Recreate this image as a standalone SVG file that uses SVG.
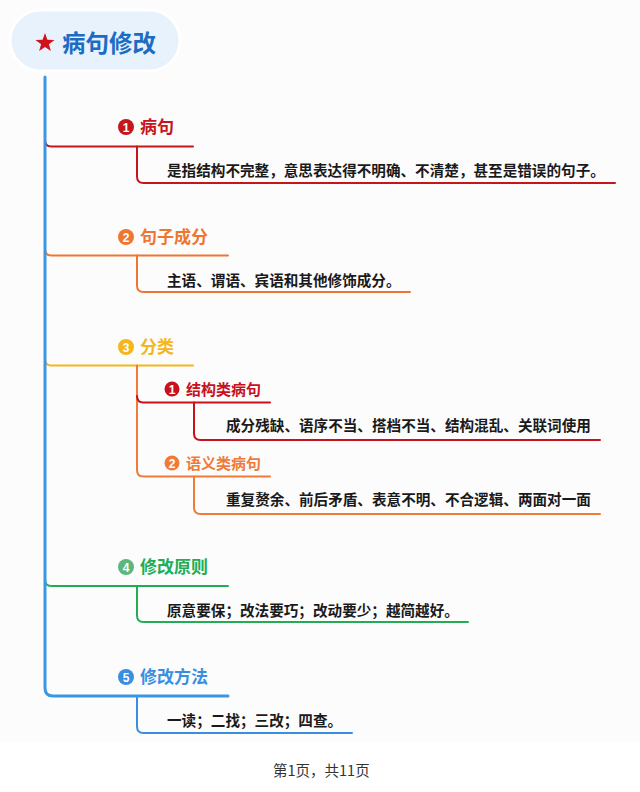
<svg xmlns="http://www.w3.org/2000/svg" width="640" height="792" viewBox="0 0 640 792">
<style>
.cjk{font-family:"Noto Sans CJK SC","Noto Sans",sans-serif;}
.title{font-size:23.5px;font-weight:700;fill:#1c6cc4;}
.lbl{font-size:17px;font-weight:700;}
.sub{font-size:15px;font-weight:700;}
.txt{font-size:14.6px;font-weight:700;fill:#1a1a1a;}
.num{font-family:"Liberation Sans",sans-serif;font-size:12px;font-weight:700;fill:#fff;text-anchor:middle;}
.ln{fill:none;stroke-width:2;stroke-linecap:round;}
.footer{font-size:14.5px;fill:#333;}
</style>
<rect x="0" y="0" width="640" height="742" fill="#fcfcfd"/>
<rect x="0" y="742" width="640" height="50" fill="#ffffff"/>

<g id="connectors">
  <!-- branch 1 -->
  <path class="ln" stroke="#c4161c" d="M45 140 Q45 146.5 51.5 146.5 H193"/>
  <path class="ln" stroke="#c4161c" d="M137 146.5 V176.5 Q137 183 143.5 183 H615"/>
  <!-- branch 2 -->
  <path class="ln" stroke="#ef7630" d="M45 249 Q45 255.5 51.5 255.5 H228"/>
  <path class="ln" stroke="#ef7630" d="M137 255.5 V285.5 Q137 292 143.5 292 H410"/>
  <!-- branch 3 -->
  <path class="ln" stroke="#f5b51c" d="M45 359 Q45 365.5 51.5 365.5 H193"/>
  <path class="ln" stroke="#f07a3a" d="M137 365.5 V470 Q137 476.5 143.5 476.5 H270"/>
  <path class="ln" stroke="#c8101e" d="M137 396 Q137 402.5 143.5 402.5 H270"/>
  <path class="ln" stroke="#c8101e" d="M194 402.5 V433.5 Q194 440 200.5 440 H600"/>
  <path class="ln" stroke="#f07a3a" d="M194 476.5 V507.5 Q194 514 200.5 514 H600"/>
  <!-- branch 4 -->
  <path class="ln" stroke="#22ad55" d="M45 579.5 Q45 586 51.5 586 H228"/>
  <path class="ln" stroke="#22ad55" d="M137 586 V615.5 Q137 622 143.5 622 H468"/>
  <!-- branch 5 -->
  <path class="ln" stroke="#3a8ee0" d="M137 696 V726.5 Q137 733 143.5 733 H352"/>
  <path fill="none" stroke="#3b97e3" stroke-width="3" stroke-linecap="round" d="M45 77 V688 Q45 696 53 696 H228"/>
</g>

<g id="root">
  <rect x="10" y="10" width="170" height="61" rx="30.5" fill="#e8f2fc" stroke="#ffffff" stroke-width="3"/>
  <path d="M45 33 L47.4 39.7 L54.5 39.9 L48.9 44.2 L50.9 51 L45 47 L39.1 51 L41.1 44.2 L35.5 39.9 L42.6 39.7 Z" fill="#d0121b"/>
  <text class="cjk title" x="62" y="52">病句修改</text>
</g>

<g id="b1">
  <circle cx="126" cy="127" r="8" fill="#c4161c"/>
  <text class="num" x="126" y="131.5">1</text>
  <text class="cjk lbl" x="140" y="133" fill="#c4161c">病句</text>
</g>
<g id="b1c">
  <text class="cjk txt" x="167" y="175.5">是指结构不完整，意思表达得不明确、不清楚，甚至是错误的句子。</text>
</g>

<g id="b2">
  <circle cx="126" cy="237" r="8" fill="#ef7630"/>
  <text class="num" x="126" y="241.5">2</text>
  <text class="cjk lbl" x="140" y="243" fill="#ef7630">句子成分</text>
</g>
<g id="b2c">
  <text class="cjk txt" x="167" y="285.5">主语、谓语、宾语和其他修饰成分。</text>
</g>

<g id="b3">
  <circle cx="126" cy="347" r="8" fill="#f5b51c"/>
  <text class="num" x="126" y="351.5">3</text>
  <text class="cjk lbl" x="140" y="353" fill="#f5b51c">分类</text>
</g>
<g id="b3s1">
  <circle cx="172" cy="389" r="7.5" fill="#c8101e"/>
  <text class="num" x="172" y="393.5">1</text>
  <text class="cjk sub" x="186" y="395" fill="#c8101e">结构类病句</text>
</g>
<g id="b3s1c">
  <text class="cjk txt" x="226" y="431">成分残缺、语序不当、搭档不当、结构混乱、关联词使用</text>
</g>
<g id="b3s2">
  <circle cx="172" cy="463" r="7.5" fill="#f07a3a"/>
  <text class="num" x="172" y="467.5">2</text>
  <text class="cjk sub" x="186" y="469" fill="#f07a3a">语义类病句</text>
</g>
<g id="b3s2c">
  <text class="cjk txt" x="226" y="505">重复赘余、前后矛盾、表意不明、不合逻辑、两面对一面</text>
</g>

<g id="b4">
  <circle cx="126" cy="567" r="8" fill="#5cb67e"/>
  <text class="num" x="126" y="571.5">4</text>
  <text class="cjk lbl" x="140" y="573" fill="#22ad55">修改原则</text>
</g>
<g id="b4c">
  <text class="cjk txt" x="167" y="615.5">原意要保；改法要巧；改动要少；越简越好。</text>
</g>

<g id="b5">
  <circle cx="126" cy="677" r="8" fill="#3a8ee0"/>
  <text class="num" x="126" y="681.5">5</text>
  <text class="cjk lbl" x="140" y="683" fill="#3a8ee0">修改方法</text>
</g>
<g id="b5c">
  <text class="cjk txt" x="167" y="725.5">一读；二找；三改；四查。</text>
</g>

<text class="cjk footer" x="273" y="775.5">第1页，共11页</text>
</svg>
